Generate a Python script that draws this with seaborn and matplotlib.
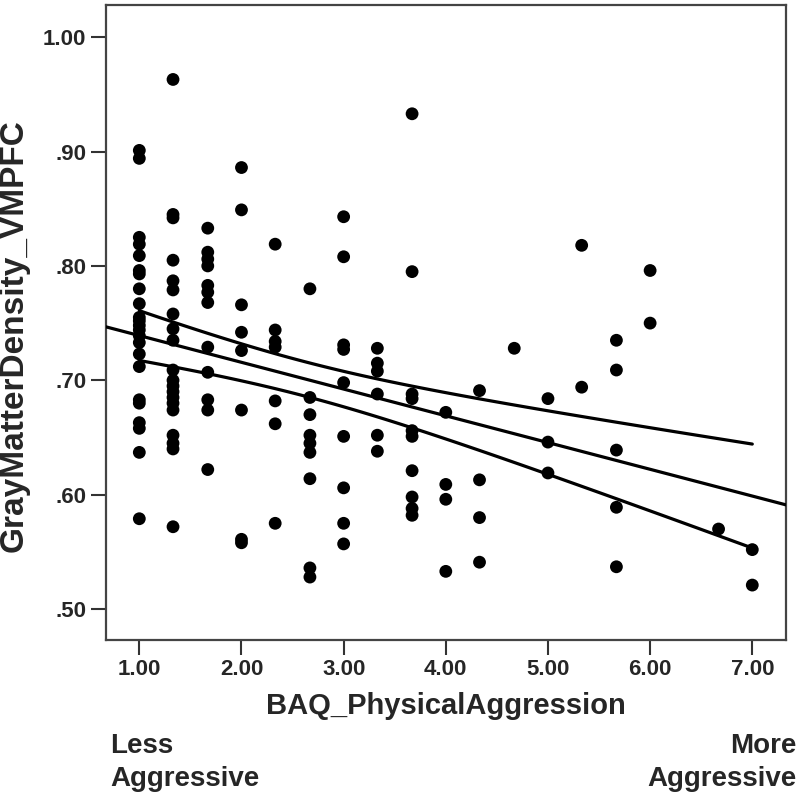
import numpy as np
import pandas as pd
import matplotlib
matplotlib.use("Agg")
import matplotlib.pyplot as plt
import seaborn as sns

# BAQ physical aggression levels (x) and gray matter density values read per level (y)
bpa_levels = [1.00, 1.33, 1.67, 2.00, 2.33, 2.67, 3.00, 3.33, 3.67,
              4.00, 4.33, 4.67, 5.00, 5.33, 5.67, 6.00, 6.67, 7.00]
gmd_by_level = [
    [0.901, 0.894, 0.825, 0.819, 0.809, 0.796, 0.793, 0.780, 0.767, 0.755, 0.752,
     0.748, 0.744, 0.739, 0.733, 0.723, 0.712, 0.683, 0.680, 0.663, 0.658, 0.637, 0.579],
    [0.963, 0.845, 0.842, 0.805, 0.787, 0.779, 0.758, 0.745, 0.735, 0.709, 0.700,
     0.695, 0.690, 0.685, 0.680, 0.674, 0.652, 0.645, 0.640, 0.572],
    [0.833, 0.812, 0.806, 0.800, 0.783, 0.777, 0.768, 0.729, 0.707, 0.683, 0.674, 0.622],
    [0.886, 0.849, 0.766, 0.742, 0.726, 0.674, 0.561, 0.558],
    [0.819, 0.744, 0.734, 0.729, 0.682, 0.662, 0.575],
    [0.780, 0.685, 0.670, 0.652, 0.645, 0.637, 0.614, 0.536, 0.528],
    [0.843, 0.808, 0.731, 0.727, 0.698, 0.651, 0.606, 0.575, 0.557],
    [0.728, 0.715, 0.708, 0.688, 0.652, 0.638],
    [0.933, 0.795, 0.688, 0.684, 0.656, 0.651, 0.621, 0.598, 0.588, 0.582],
    [0.672, 0.609, 0.596, 0.533],
    [0.691, 0.613, 0.580, 0.541],
    [0.728],
    [0.684, 0.646, 0.619],
    [0.818, 0.694],
    [0.735, 0.709, 0.639, 0.589, 0.537],
    [0.796, 0.750],
    [0.570],
    [0.552, 0.521],
]
x_ticks = [1, 2, 3, 4, 5, 6, 7]
y_ticks = [0.5, 0.6, 0.7, 0.8, 0.9, 1.0]

rows = [(x, y) for x, ys in zip(bpa_levels, gmd_by_level) for y in ys]
df = pd.DataFrame(rows, columns=["BAQ_PhysicalAggression", "GrayMatterDensity_VMPFC"])

sns.set_style("ticks")
plt.rcParams["font.family"] = ["Liberation Sans", "DejaVu Sans"]
plt.rcParams["font.weight"] = "bold"

fig = plt.figure(figsize=(8, 7.97), dpi=100)
ax = fig.add_axes([0.132, 0.197, 0.8505, 0.7966])

sns.scatterplot(data=df, x="BAQ_PhysicalAggression", y="GrayMatterDensity_VMPFC",
                color="black", s=85, edgecolor="none", ax=ax, zorder=3)

# linear fit + 95% CI of the mean (lines like SPSS)
x = df["BAQ_PhysicalAggression"].values
y = df["GrayMatterDensity_VMPFC"].values
n = len(x)
b1, b0 = np.polyfit(x, y, 1)
resid = y - (b0 + b1 * x)
s = np.sqrt(np.sum(resid ** 2) / (n - 2))
sxx = np.sum((x - x.mean()) ** 2)
t_crit = 1.98

xlim = (0.67, 7.33)
xf = np.linspace(xlim[0], xlim[1], 100)
ax.plot(xf, b0 + b1 * xf, color="black", lw=2.3, zorder=4)
xc = np.linspace(x.min(), x.max(), 100)
half = t_crit * s * np.sqrt(1 / n + (xc - x.mean()) ** 2 / sxx)
ax.plot(xc, b0 + b1 * xc + half, color="black", lw=2.3, zorder=4)
ax.plot(xc, b0 + b1 * xc - half, color="black", lw=2.3, zorder=4)

ax.set_xlim(*xlim)
ax.set_ylim(0.473, 1.028)
ax.set_xticks(x_ticks)
ax.set_xticklabels([f"{v:.2f}" for v in x_ticks])
ax.set_yticks(y_ticks)
ax.set_yticklabels([f"{v:.2f}".lstrip("0") for v in y_ticks])
ax.tick_params(length=11, width=1.5, color="#333333", labelsize=16, pad=3)
for lab in ax.get_xticklabels() + ax.get_yticklabels():
    lab.set_fontweight("bold")
for sp in ax.spines.values():
    sp.set_visible(True)
    sp.set_color("#444444")
    sp.set_linewidth(1.6)
ax.set_xlabel("")
ax.set_ylabel("")

fig.text(446 / 800, 1 - 706 / 797, "BAQ_PhysicalAggression", ha="center", va="center",
         fontsize=21, fontweight="bold")
fig.text(14 / 800, 1 - 336 / 797, "GrayMatterDensity_VMPFC", ha="center", va="center",
         rotation=90, fontsize=24, fontweight="bold")
fig.text(110 / 800, 1 - 733 / 797, "Less\nAggressive", ha="left", va="top",
         fontsize=20, fontweight="bold", linespacing=1.35)
fig.text(797 / 800, 1 - 733 / 797, "More\nAggressive", ha="right", va="top",
         fontsize=20, fontweight="bold", linespacing=1.35, multialignment="right")

fig.savefig("out.png", dpi=100)
